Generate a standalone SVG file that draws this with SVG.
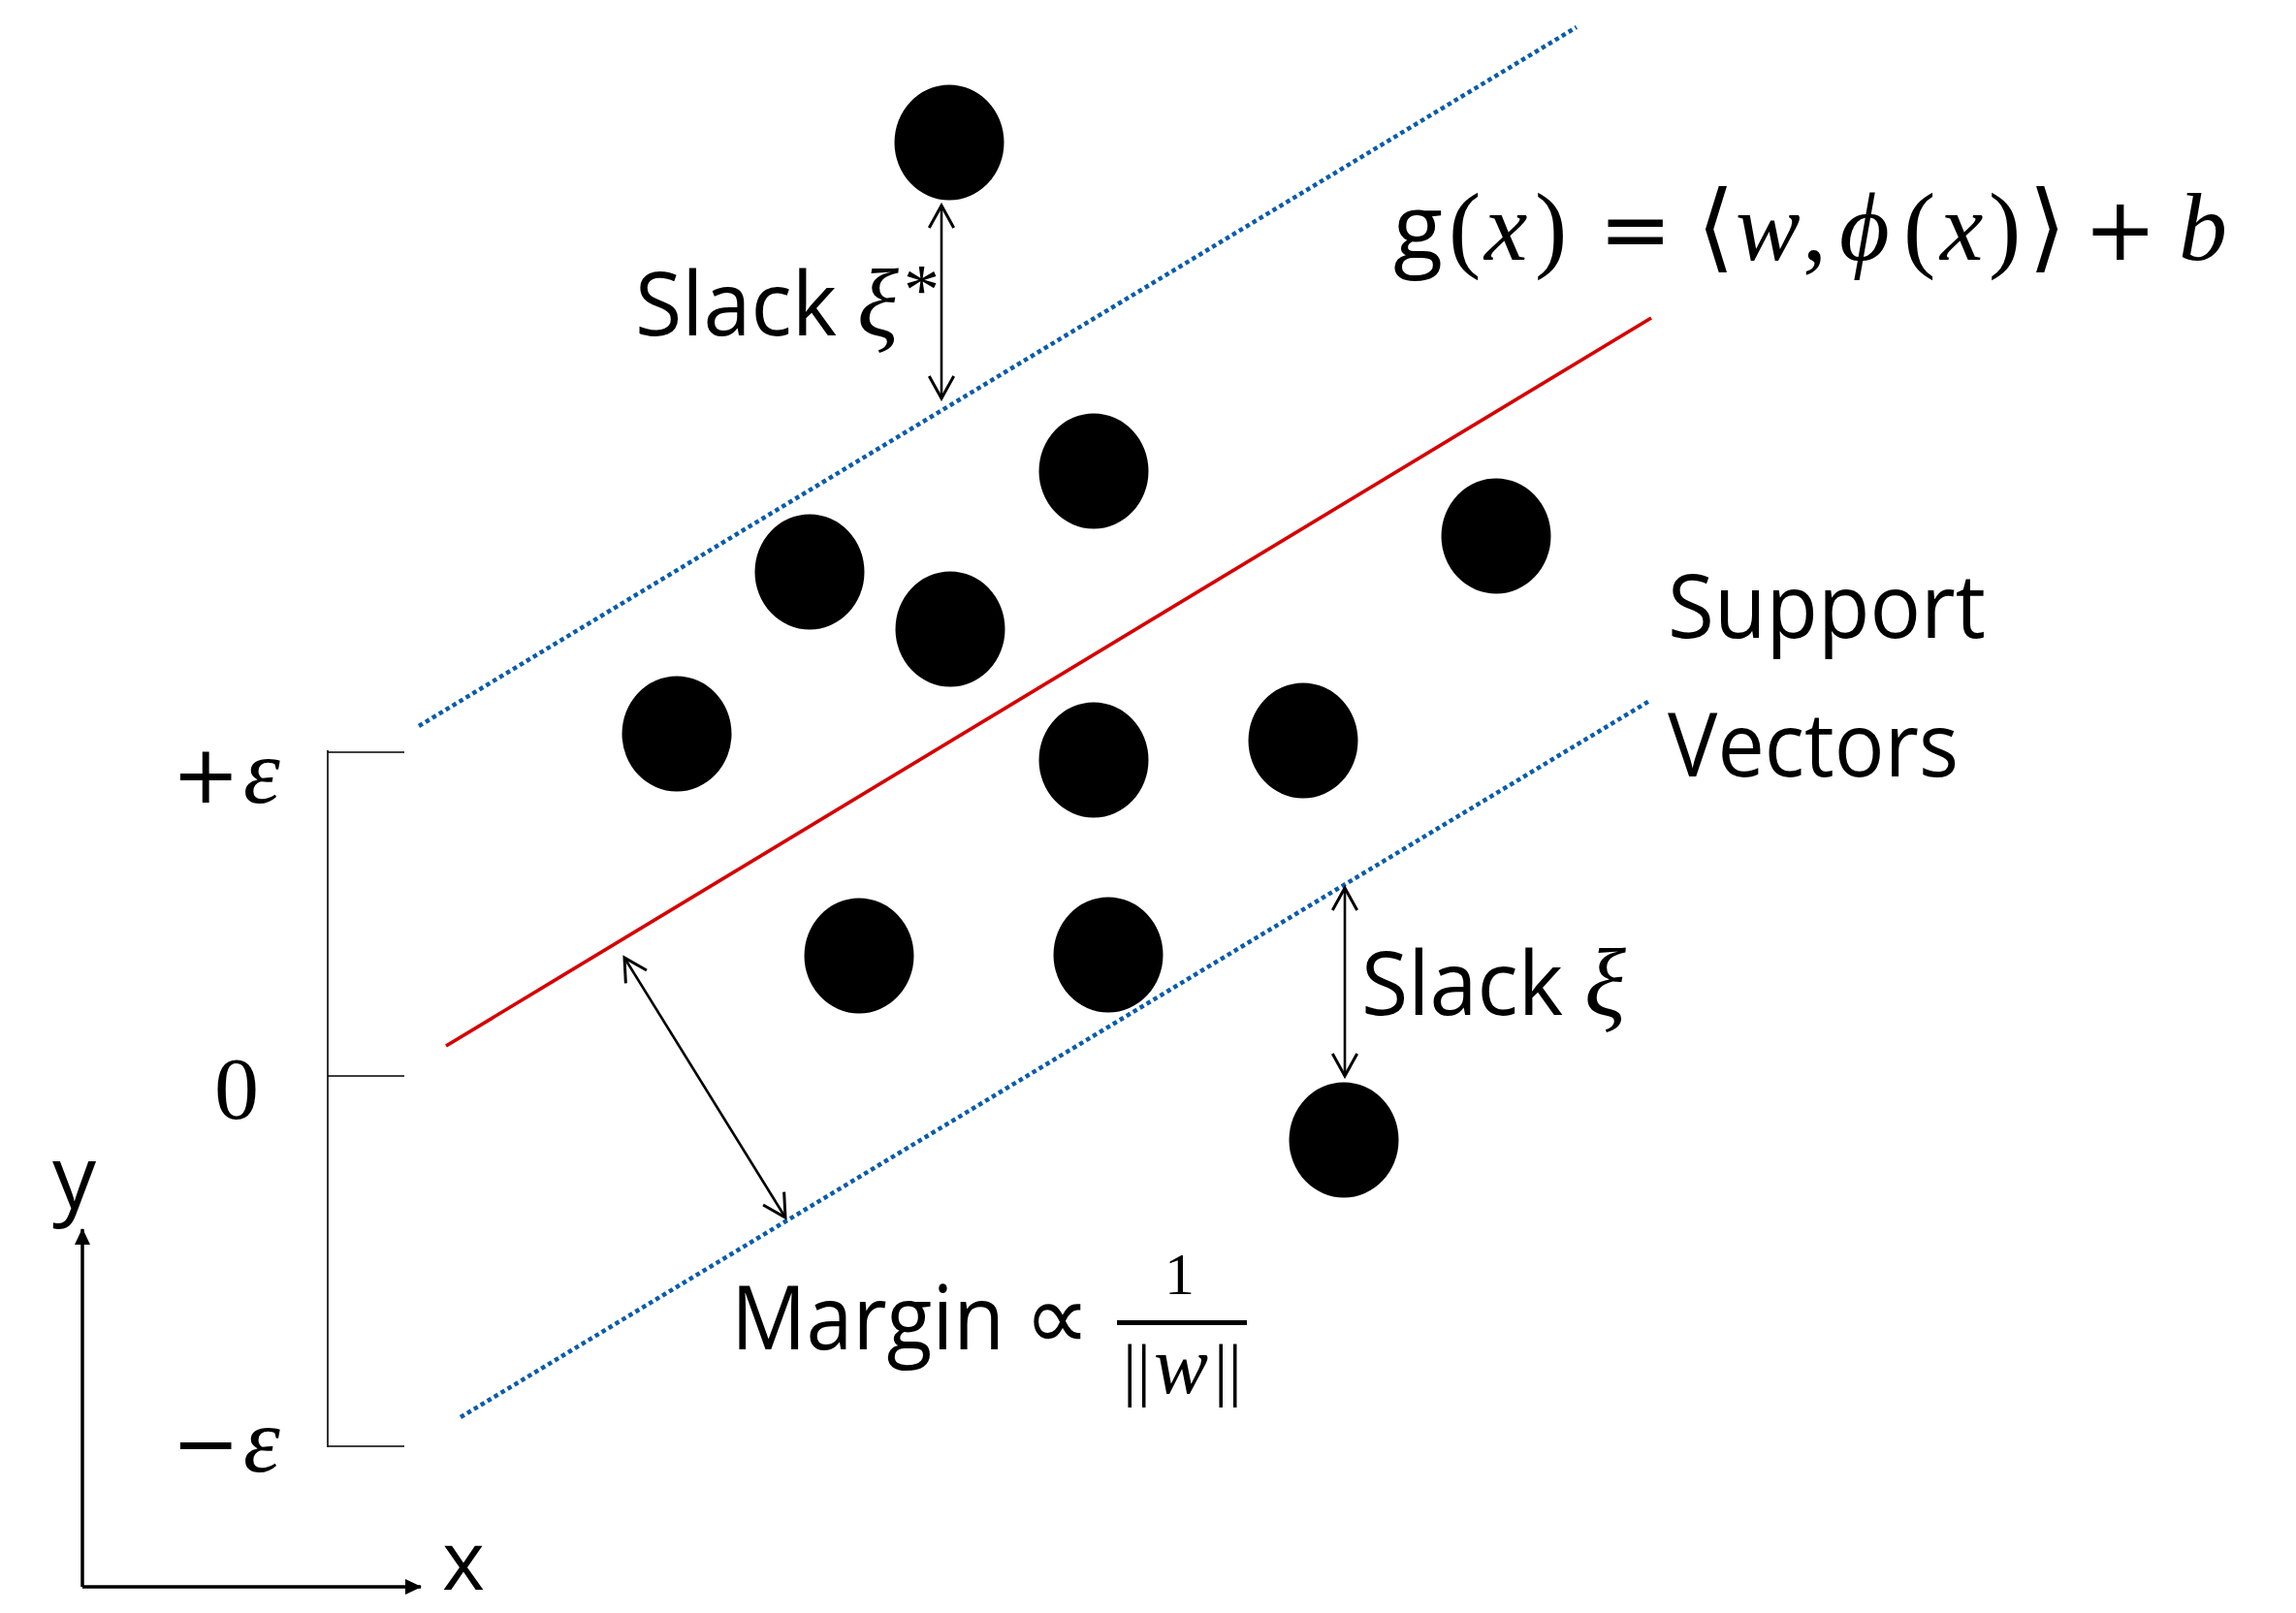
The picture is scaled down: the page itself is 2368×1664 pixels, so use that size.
<svg xmlns="http://www.w3.org/2000/svg" width="2368" height="1664" viewBox="0 0 2368 1664">
<style>
.sans{font-family:"Open Sans","Noto Sans","DejaVu Sans",sans-serif;fill:#000}
.math{font-family:"Liberation Serif","DejaVu Serif",serif;fill:#000}
.op{font-family:"DejaVu Sans",sans-serif;fill:#000}
.it{font-style:italic}
.dot{fill:#000}
.band{stroke:#0a5cab;stroke-width:4.5;stroke-dasharray:4.5 3.6;fill:none}
.reg{stroke:#d50000;stroke-width:3.6;fill:none}
.dim{stroke:#000;stroke-width:2.6;fill:none;marker-start:url(#open);marker-end:url(#open)}
.axis{stroke:#000;stroke-width:3.5;fill:none;marker-end:url(#solid)}
.brk{stroke:#000;stroke-width:1.6;fill:none}
</style>
<defs>
<marker id="open" markerUnits="userSpaceOnUse" markerWidth="30" markerHeight="30" viewBox="-2 -2 24 26" refX="20" refY="11" orient="auto-start-reverse">
<path d="M0,0 L20,11 L0,22" fill="none" stroke="#000" stroke-width="2.6"/>
</marker>
<marker id="solid" markerUnits="userSpaceOnUse" markerWidth="18" markerHeight="18" viewBox="0 0 18 18" refX="16" refY="8" orient="auto">
<path d="M0,0 L17,8 L0,16 Z" fill="#000"/>
</marker>
</defs>

<g id="connectors">
<line class="band" x1="432" y1="749" x2="1626" y2="28"/>
<line class="reg" x1="460" y1="1079" x2="1703" y2="328"/>
<line class="band" x1="475" y1="1462" x2="1703" y2="722"/>
<line class="dim" x1="971" y1="212" x2="971" y2="411"/>
<line class="dim" x1="1387" y1="916" x2="1387" y2="1110"/>
<line class="dim" x1="644" y1="988" x2="810" y2="1256"/>
<line class="axis" x1="85" y1="1637" x2="85" y2="1268"/>
<line class="axis" x1="85" y1="1637" x2="434" y2="1637"/>
<path class="brk" d="M338,774 V1493 M338,776 H417 M338,1110 H417 M338,1492 H417"/>
</g>

<g id="points">
<ellipse id="p1" class="dot" cx="979" cy="147" rx="56.5" ry="59.5"/>
<ellipse id="p2" class="dot" cx="1128" cy="486" rx="56.5" ry="59.5"/>
<ellipse id="p3" class="dot" cx="835" cy="590" rx="56.5" ry="59.5"/>
<ellipse id="p4" class="dot" cx="980" cy="649" rx="56.5" ry="59.5"/>
<ellipse id="p5" class="dot" cx="1543" cy="553" rx="56.5" ry="59.5"/>
<ellipse id="p6" class="dot" cx="698" cy="757" rx="56.5" ry="59.5"/>
<ellipse id="p7" class="dot" cx="1128" cy="784" rx="56.5" ry="59.5"/>
<ellipse id="p8" class="dot" cx="1344" cy="764" rx="56.5" ry="59.5"/>
<ellipse id="p9" class="dot" cx="886" cy="986" rx="56.5" ry="59.5"/>
<ellipse id="p10" class="dot" cx="1143" cy="985" rx="56.5" ry="59.5"/>
<ellipse id="p11" class="dot" cx="1386" cy="1176" rx="56.5" ry="59.5"/>
</g>

<g id="equation">
<text class="math" y="268" font-size="100"><tspan class="sans" x="1437" font-size="94">g</tspan><tspan x="1494">(</tspan><tspan class="it" x="1531">x</tspan><tspan x="1583">)</tspan><tspan class="op" x="1649" font-size="90">=</tspan><tspan x="1750">⟨</tspan><tspan class="it" x="1790">w</tspan><tspan x="1859">,</tspan><tspan class="it" x="1897">ϕ</tspan><tspan x="1963">(</tspan><tspan class="it" x="2001">x</tspan><tspan x="2051">)</tspan><tspan x="2092">⟩</tspan><tspan class="op" x="2149" font-size="90">+</tspan><tspan class="it" x="2247">b</tspan></text>
</g>

<g id="slack-star">
<text class="sans" x="655" y="346" font-size="92" textLength="208" lengthAdjust="spacingAndGlyphs">Slack</text>
<text class="math it" x="884" y="346" font-size="100">ξ</text>
<text class="math" x="932" y="324" font-size="74">*</text>
</g>

<g id="slack">
<text class="sans" x="1404" y="1047" font-size="92" textLength="208" lengthAdjust="spacingAndGlyphs">Slack</text>
<text class="math it" x="1634" y="1047" font-size="100">ξ</text>
</g>

<g id="support-vectors">
<text class="sans" x="1720" y="658" font-size="92" textLength="328" lengthAdjust="spacingAndGlyphs">Support</text>
<text class="sans" x="1720" y="801" font-size="92" textLength="300" lengthAdjust="spacingAndGlyphs">Vectors</text>
</g>

<g id="margin">
<text class="sans" x="754" y="1392" font-size="92" textLength="282" lengthAdjust="spacingAndGlyphs">Margin</text>
<text class="op" x="1056" y="1392" font-size="96">∝</text>
<text class="math" x="1201" y="1335" font-size="62">1</text>
<rect x="1152" y="1362" width="134" height="5" fill="#000"/>
<text class="math" y="1437" font-size="72"><tspan x="1158">||</tspan><tspan class="it" x="1190" font-size="84">w</tspan><tspan x="1252">||</tspan></text>
</g>

<g id="axis-labels">
<text class="op" x="177" y="828" font-size="84">+</text>
<text class="math it" x="251" y="828" font-size="96">ε</text>
<text class="math" x="221" y="1154" font-size="92">0</text>
<text class="op" x="177" y="1518" font-size="84">−</text>
<text class="math it" x="251" y="1518" font-size="96">ε</text>
<text class="sans" x="54" y="1246" font-size="90">y</text>
<text class="sans" x="456" y="1640" font-size="84">x</text>
</g>
</svg>
